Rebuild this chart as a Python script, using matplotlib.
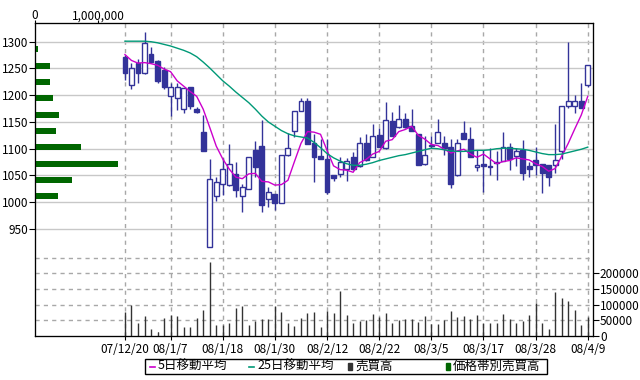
import matplotlib
matplotlib.use('Agg')
import matplotlib.pyplot as plt
from matplotlib.patches import Rectangle
from matplotlib.lines import Line2D

plt.rcParams['font.family'] = ['Noto Sans CJK JP', 'DejaVu Sans']
plt.rcParams['font.size'] = 8.5

# trading days
dates = ['07/12/20', '07/12/21', '07/12/25', '07/12/26', '07/12/27', '07/12/28',
         '08/1/4', '08/1/7', '08/1/8', '08/1/9', '08/1/10', '08/1/11', '08/1/15',
         '08/1/16', '08/1/17', '08/1/18', '08/1/21', '08/1/22', '08/1/23', '08/1/24',
         '08/1/25', '08/1/28', '08/1/29', '08/1/30', '08/1/31', '08/2/1', '08/2/4',
         '08/2/5', '08/2/6', '08/2/7', '08/2/8', '08/2/12', '08/2/13', '08/2/14',
         '08/2/15', '08/2/18', '08/2/19', '08/2/20', '08/2/21', '08/2/22', '08/2/25',
         '08/2/26', '08/2/27', '08/2/28', '08/2/29', '08/3/3', '08/3/4', '08/3/5',
         '08/3/6', '08/3/7', '08/3/10', '08/3/11', '08/3/12', '08/3/13', '08/3/14',
         '08/3/17', '08/3/18', '08/3/19', '08/3/21', '08/3/24', '08/3/25', '08/3/26',
         '08/3/27', '08/3/28', '08/3/31', '08/4/1', '08/4/2', '08/4/3', '08/4/4',
         '08/4/7', '08/4/8', '08/4/9']
date_labels = ['07/12/20', '08/1/7', '08/1/18', '08/1/30', '08/2/12', '08/2/22',
               '08/3/5', '08/3/17', '08/3/28', '08/4/9']

opens = [1272, 1219, 1261, 1241, 1277, 1264, 1248, 1199, 1194, 1174, 1215, 1174,
         1131, 916, 1012, 1035, 1032, 1052, 1012, 1024, 1098, 1105, 1006, 1015,
         999, 1088, 1133, 1171, 1189, 1110, 1086, 1080, 1051, 1052, 1062, 1085,
         1067, 1110, 1085, 1125, 1101, 1152, 1141, 1155, 1143, 1128, 1071, 1105,
         1111, 1111, 1103, 1050, 1129, 1119, 1065, 1071, 1068, 1075, 1078, 1104,
         1087, 1098, 1068, 1079, 1071, 1070, 1069, 1096, 1180, 1180, 1190, 1219]
highs = [1275, 1260, 1267, 1319, 1291, 1265, 1253, 1222, 1222, 1213, 1216, 1178,
         1163, 1080, 1048, 1082, 1109, 1076, 1035, 1085, 1114, 1154, 1028, 1016,
         1089, 1129, 1171, 1195, 1194, 1128, 1118, 1119, 1051, 1085, 1082, 1093,
         1121, 1128, 1147, 1138, 1188, 1169, 1182, 1167, 1174, 1128, 1124, 1123,
         1155, 1124, 1118, 1118, 1152, 1141, 1098, 1098, 1101, 1095, 1132, 1111,
         1101, 1116, 1076, 1103, 1071, 1070, 1147, 1179, 1300, 1200, 1222, 1257]
lows = [1228, 1211, 1223, 1240, 1261, 1223, 1211, 1161, 1172, 1167, 1175, 1166,
        1096, 916, 1003, 1014, 1031, 1010, 982, 1024, 1048, 982, 991, 986,
        999, 1087, 1121, 1171, 1108, 1037, 1081, 1015, 1039, 1048, 1040, 1061,
        1066, 1078, 1085, 1103, 1100, 1123, 1138, 1138, 1133, 1069, 1070, 1102,
        1111, 1088, 1026, 1049, 1119, 1085, 1059, 1020, 1051, 1042, 1077, 1060,
        1068, 1042, 1047, 1051, 1018, 1030, 1055, 1080, 1177, 1166, 1177, 1215]
closes = [1241, 1250, 1241, 1298, 1263, 1227, 1216, 1215, 1215, 1213, 1179, 1169,
          1096, 1043, 1037, 1062, 1071, 1023, 1028, 1084, 1065, 995, 1019, 999,
          1088, 1101, 1171, 1189, 1108, 1084, 1081, 1020, 1045, 1075, 1077, 1062,
          1110, 1079, 1123, 1104, 1154, 1124, 1156, 1141, 1134, 1070, 1088, 1107,
          1131, 1102, 1034, 1110, 1119, 1085, 1070, 1067, 1065, 1073, 1104, 1080,
          1095, 1055, 1062, 1070, 1055, 1048, 1079, 1179, 1190, 1190, 1177, 1256]
ma5 = [1276, 1265, 1260, 1261, 1259, 1256, 1249, 1244, 1227, 1217, 1207, 1198,
       1174, 1140, 1105, 1081, 1062, 1047, 1044, 1053, 1054, 1039, 1038, 1032,
       1033, 1041, 1076, 1110, 1132, 1131, 1127, 1097, 1068, 1061, 1060, 1056,
       1074, 1080, 1090, 1095, 1114, 1117, 1132, 1136, 1142, 1125, 1118, 1108,
       1106, 1099, 1092, 1096, 1099, 1090, 1084, 1090, 1081, 1072, 1076, 1078,
       1083, 1081, 1079, 1072, 1067, 1058, 1063, 1086, 1110, 1137, 1163, 1198]
ma25 = [1301, 1301, 1301, 1301, 1300, 1298, 1295, 1292, 1288, 1284, 1279, 1272,
        1262, 1251, 1239, 1227, 1217, 1206, 1196, 1186, 1174, 1161, 1150, 1142,
        1134, 1128, 1124, 1122, 1120, 1112, 1102, 1091, 1083, 1077, 1072, 1069,
        1069, 1071, 1074, 1078, 1081, 1084, 1087, 1089, 1092, 1095, 1098, 1101,
        1100, 1098, 1096, 1095, 1095, 1096, 1097, 1097, 1098, 1100, 1101, 1101,
        1100, 1099, 1097, 1094, 1091, 1089, 1089, 1090, 1093, 1096, 1099, 1103]
volume = [77000, 98000, 42000, 64000, 22000, 13000, 57000, 67000, 65000, 30000,
          30000, 57000, 83000, 236000, 35000, 35000, 42000, 90000, 95000, 35000,
          48000, 54000, 55000, 95000, 77000, 42000, 32000, 57000, 74000, 77000,
          29000, 79000, 73000, 144000, 67000, 42000, 48000, 52000, 71000, 61000,
          73000, 42000, 52000, 53000, 53000, 46000, 64000, 38000, 38000, 51000,
          79000, 60000, 63000, 54000, 67000, 42000, 41000, 40000, 70000, 54000,
          42000, 47000, 67000, 106000, 42000, 22000, 141000, 122000, 112000, 83000,
          35000, 61000]

# volume by price band
band_price = [1012, 1042, 1072, 1103, 1133, 1163, 1195, 1225, 1255, 1286]
band_volume = [363000, 585000, 1311000, 727000, 332000, 379000, 284000, 237000,
               237000, 42000]

navy = '#333399'
grid_c = '#C8C8C8'
dash_c = '#A8A8A8'

fig = plt.figure(figsize=(6.4, 3.8), dpi=100)
ax = fig.add_axes([35 / 640, 44 / 380, 558 / 640, 313 / 380])

x = list(range(len(dates)))
ax.vlines(x, lows, highs, color=navy, lw=1, zorder=2)
bottoms = [min(o, c) for o, c in zip(opens, closes)]
heights = [max(abs(c - o), 1.5) for o, c in zip(opens, closes)]
faces = ['white' if c >= o else navy for o, c in zip(opens, closes)]
ax.bar(x, heights, bottom=bottoms, width=0.75, color=faces, edgecolor=navy,
       lw=1, zorder=3)
ax.plot(x, ma5, color='#CC00CC', lw=1, zorder=4)
ax.plot(x, ma25, color='#009977', lw=1, zorder=4)

ax.set_xlim(-13.8, 71.8)
ax.set_ylim(750, 1335)
ax.set_yticks(range(950, 1301, 50))
tick_pos = [dates.index(d) for d in date_labels]
ax.set_xticks(tick_pos)
ax.set_xticklabels(date_labels)
ax.set_xticks(x, minor=True)
ax.tick_params(axis='y', direction='out', length=4, pad=1)
ax.tick_params(axis='x', which='major', direction='inout', length=6, pad=2)
ax.tick_params(axis='x', which='minor', direction='in', length=3)
ax.grid(axis='y', color=grid_c, lw=1, ls='-')
ax.grid(axis='x', which='major', color=dash_c, lw=1, ls=(0, (3, 3)))
ax.set_axisbelow(True)

# volume on the right
axv = ax.twinx()
axv.vlines(x, 0, volume, color='#333333', lw=1)
axv.set_ylim(0, 1000000)
for v in range(50000, 250001, 50000):
    axv.axhline(v, color=dash_c, lw=1, ls=(0, (3, 3)), zorder=0)
axv.set_yticks(range(0, 200001, 50000))
axv.tick_params(axis='y', direction='out', length=4, pad=1)

# volume by price on the top
axh = ax.twiny()
axh.barh(band_price, band_volume, height=12, color='#006600')
axh.set_xlim(0, 8860000)
axh.set_xticks([0, 1000000])
axh.set_xticklabels(['0', '1,000,000'])
axh.tick_params(axis='x', direction='out', length=2, pad=-1.5)

# legend box
fig.add_artist(Rectangle((145 / 640, 1 - 374 / 380), 402 / 640, 15 / 380,
                         transform=fig.transFigure, fill=False,
                         edgecolor='black', lw=1))
ly = 1 - 366.5 / 380
items = [('5日移動平均', '#CC00CC', 'line', 150),
         ('25日移動平均', '#009977', 'line', 249),
         ('売買高', '#333333', 'box', 347),
         ('価格帯別売買高', '#006600', 'box', 445)]
for label, col, kind, px in items:
    if kind == 'line':
        fig.add_artist(Line2D([px / 640, (px + 5) / 640], [ly, ly],
                              transform=fig.transFigure, color=col, lw=1.2))
    else:
        fig.add_artist(Rectangle(((px + 1) / 640, ly - 3.5 / 380), 4 / 640, 7 / 380,
                                 transform=fig.transFigure, color=col))
    fig.text((px + 8) / 640, ly, label, va='center', ha='left', fontsize=9)

fig.savefig('out.png', dpi=100)
